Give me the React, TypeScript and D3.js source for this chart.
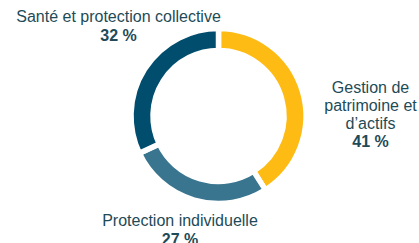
import React, { useEffect, useRef } from "react";
import * as d3 from "d3";

const categories = ["Gestion de patrimoine et d'actifs", "Protection individuelle", "Santé et protection collective"];
const values = [41, 27, 32];
const labelLines = [["Gestion de", "patrimoine et", "d\u2019actifs"], ["Protection individuelle"], ["Santé et protection collective"]];
const percentLabels = ["41 %", "27 %", "32 %"];
const colors = ["#FDBB13", "#39758F", "#004D6E"];

export default function App() {
  const ref = useRef<SVGSVGElement>(null);

  useEffect(() => {
    const w = 419;
    const h = 243;
    const cx = 218.5;
    const cy = 116;
    const svg = d3.select(ref.current);
    svg.selectAll("*").remove();

    const pie = d3.pie<number>().sort(null).value(d => d);
    const arc = d3.arc<d3.PieArcDatum<number>>().innerRadius(65.5).outerRadius(87.5);

    svg
      .append("g")
      .attr("transform", `translate(${cx},${cy})`)
      .selectAll("path")
      .data(pie(values))
      .enter()
      .append("path")
      .attr("d", arc)
      .attr("fill", (d, i) => colors[i])
      .attr("stroke", "#fff")
      .attr("stroke-width", 5.5)
      .attr("stroke-linejoin", "miter");

    // label anchors: center x, first baseline, line height
    const pos = [
      { x: 370.5, y: 93, lh: 18 },
      { x: 180, y: 226, lh: 19 },
      { x: 118.5, y: 21.5, lh: 19 }
    ];

    categories.forEach((c, i) => {
      const t = svg
        .append("text")
        .attr("text-anchor", "middle")
        .attr("font-family", "Liberation Sans, Arial, sans-serif")
        .attr("font-size", 16)
        .attr("fill", "#1E4B57");
      labelLines[i].forEach((line, j) => {
        t.append("tspan").attr("x", pos[i].x).attr("y", pos[i].y + j * pos[i].lh).text(line);
      });
      t.append("tspan")
        .attr("x", pos[i].x)
        .attr("y", pos[i].y + labelLines[i].length * pos[i].lh)
        .attr("font-weight", "bold")
        .text(percentLabels[i]);
    });

    svg.attr("width", w).attr("height", h);
  }, []);

  return (
    <svg ref={ref} width={419} height={243} style={{ position: "absolute", left: 0, top: 0, background: "#fff" }} />
  );
}
